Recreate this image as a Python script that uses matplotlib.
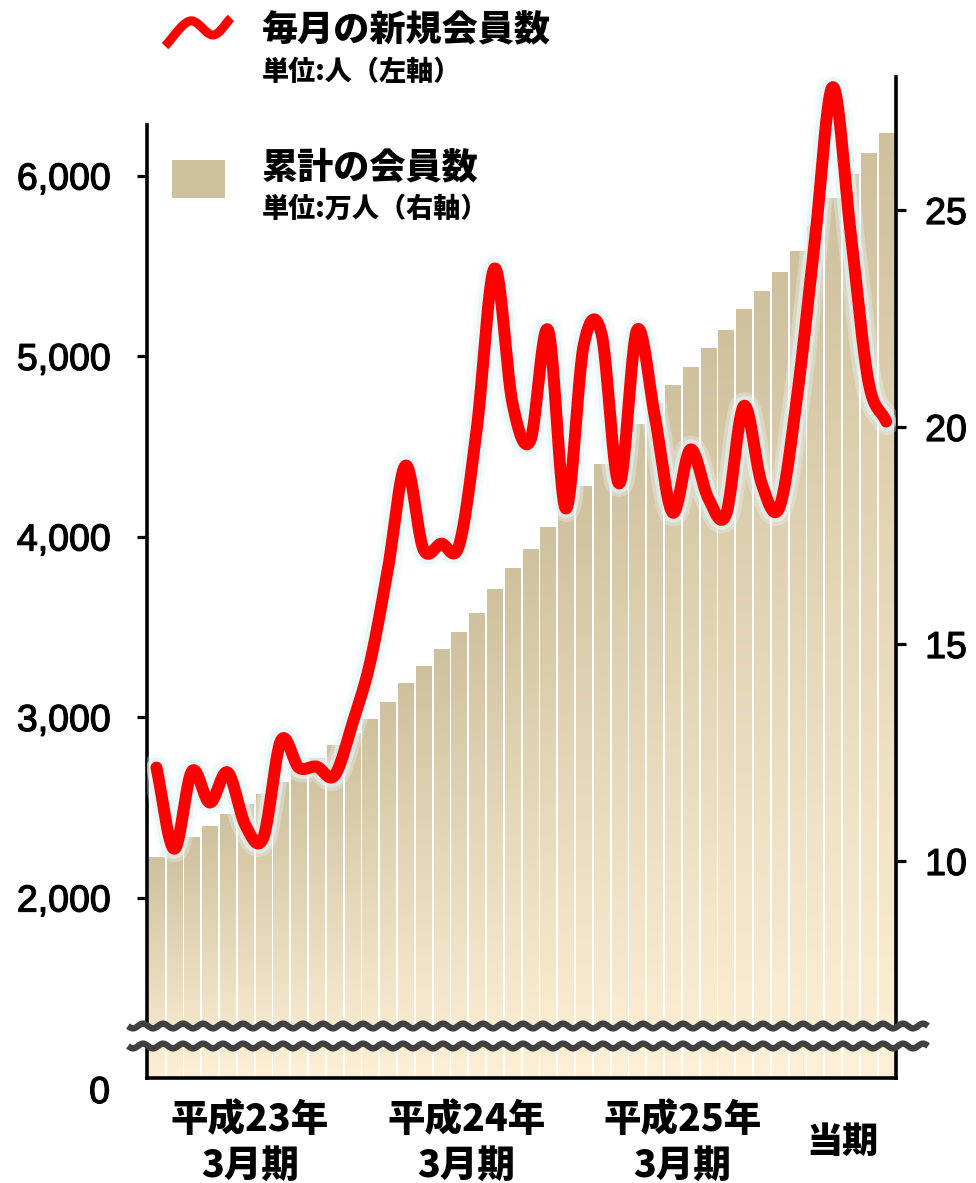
import numpy as np
import matplotlib
matplotlib.use('Agg')
import matplotlib.pyplot as plt
from matplotlib import patheffects as pe
from matplotlib.colors import LinearSegmentedColormap
from matplotlib.lines import Line2D
from matplotlib.patches import Polygon, Rectangle
from matplotlib.transforms import blended_transform_factory

# ---------------- data ----------------
months = list(range(42))
new_members = [2720, 2270, 2700, 2526, 2693, 2400, 2330, 2870, 2720, 2725,
               2675, 2960, 3300, 3817, 4393, 3930, 3960, 3950, 4600, 5485,
               4740, 4530, 5144, 4155, 5058, 5125, 4294, 5143, 4665, 4133,
               4482, 4213, 4122, 4723, 4294, 4161, 4781, 5645, 6490, 5684,
               4859, 4637]
total_members = [10.07, 10.30, 10.55, 10.80, 11.08, 11.30, 11.54, 11.80, 12.08, 12.37,
                 12.65, 12.93, 13.27, 13.66, 14.10, 14.49, 14.88, 15.27, 15.71, 16.26,
                 16.74, 17.18, 17.69, 18.14, 18.62, 19.13, 19.60, 20.06, 20.53, 20.95,
                 21.38, 21.82, 22.22, 22.70, 23.12, 23.55, 24.04, 24.62, 25.26, 25.82,
                 26.30, 26.76]
period_labels = ['平成23年\n3月期', '平成24年\n3月期', '平成25年\n3月期', '当期']
period_pos = [5.25, 17.4, 29.55, 38.55]
left_ticks = [2000, 3000, 4000, 5000, 6000]
left_ticklabels = ['2,000', '3,000', '4,000', '5,000', '6,000']
right_ticks = [10, 15, 20, 25]
right_ticklabels = ['10', '15', '20', '25']
legend_line_title = '毎月の新規会員数'
legend_line_unit = '単位:人（左軸）'
legend_bar_title = '累計の会員数'
legend_bar_unit = '単位:万人（右軸）'

# ---------------- style ----------------
W, H = 976, 1183
RED = '#ff0000'
TAN = '#cfc19e'
CREAM = '#fdf0d6'
JP = ['Noto Sans CJK JP', 'DejaVu Sans']
NUM = ['Liberation Sans', 'DejaVu Sans']
plt.rcParams['font.family'] = NUM
num_fx = [pe.Stroke(linewidth=0.9, foreground='black'), pe.Normal()]


def fx(x):
    return x / W


def fy(y):
    return 1 - y / H


def catmull_rom(xv, yv, n=24):
    xv = np.asarray(xv, float)
    yv = np.asarray(yv, float)
    px = np.concatenate([[2 * xv[0] - xv[1]], xv, [2 * xv[-1] - xv[-2]]])
    py = np.concatenate([[2 * yv[0] - yv[1]], yv, [2 * yv[-1] - yv[-2]]])
    t = np.linspace(0, 1, n, endpoint=False)
    ox, oy = [], []
    for i in range(1, len(px) - 2):
        for p, out in ((px, ox), (py, oy)):
            p0, p1, p2, p3 = p[i - 1], p[i], p[i + 1], p[i + 2]
            seg = 0.5 * (2 * p1 + (-p0 + p2) * t + (2 * p0 - 5 * p1 + 4 * p2 - p3) * t ** 2
                         + (-p0 + 3 * p1 - 3 * p2 + p3) * t ** 3)
            out.append(seg)
    ox.append([xv[-1]])
    oy.append([yv[-1]])
    return np.concatenate(ox), np.concatenate(oy)


fig = plt.figure(figsize=(W / 100, H / 100), dpi=100)
ax_left, ax_right = 147, 896
ax_bot, ax_top = 1078, 77
axB = fig.add_axes([fx(ax_left), fy(ax_bot), (ax_right - ax_left) / W, (ax_bot - ax_top) / H])
axL = axB.twinx()

xlim = (-0.53, 41.55)
ylimB = (5.0, 5.0 + (ax_bot - ax_top) / 43.4)
ylimL = (1000.0, 1000.0 + (ax_bot - ax_top) / 0.1805)

# ---- bars with vertical gradient (right axis) ----
cmap = LinearSegmentedColormap.from_list('barg', [TAN, CREAM])
grad = np.linspace(0, 1, 256)[:, None]
bars = axB.bar(months, total_members, width=0.86, bottom=0, color='none', edgecolor='none')
for b in bars:
    x0, w, h = b.get_x(), b.get_width(), b.get_height()
    axB.imshow(grad, extent=(x0, x0 + w, ylimB[0], h), origin='upper', aspect='auto',
               cmap=cmap, zorder=1, interpolation='bilinear')
axB.set_xlim(*xlim)
axB.set_ylim(*ylimB)
axB.set_aspect('auto')

# ---- line (left axis) ----
sx, sy = catmull_rom(months, new_members)
lw = 8.6
axL.plot(sx, sy, color=RED, lw=lw, solid_capstyle='round', solid_joinstyle='round', zorder=5,
         path_effects=[pe.Stroke(linewidth=lw + 11, foreground='#e6f5f8', alpha=0.35),
                       pe.Stroke(linewidth=lw + 6, foreground='#e2f3f6', alpha=0.6),
                       pe.Normal()])
axL.set_xlim(*xlim)
axL.set_ylim(*ylimL)

# ---- spines & ticks ----
for s in ['top', 'left']:
    axB.spines[s].set_visible(False)
for s in ['top', 'right', 'bottom']:
    axL.spines[s].set_visible(False)
axB.spines['right'].set_linewidth(2.6)
axB.spines['bottom'].set_linewidth(2.6)
axL.spines['left'].set_visible(True)
axL.spines['left'].set_linewidth(2.6)
axL.spines['left'].set_bounds(1000, 6280)

axB.set_xticks([])
axB.yaxis.tick_right()
axB.set_yticks(right_ticks)
axB.set_yticklabels(right_ticklabels)
axB.tick_params(axis='y', direction='out', length=7, width=2.3, pad=14, labelsize=27,
                colors='black')

axL.yaxis.tick_left()
axL.set_yticks(left_ticks)
axL.set_yticklabels(left_ticklabels)
axL.tick_params(axis='y', direction='out', length=7, width=2.3, pad=19, labelsize=27,
                colors='black')
axL.tick_params(axis='y', which='both', right=False, labelright=False)
for t in axL.get_yticklabels() + axB.get_yticklabels():
    t.set_path_effects(num_fx)
fig.text(fx(110), fy(1093), '0', ha='right', va='center', fontsize=27, family=NUM,
         path_effects=num_fx)

# ---- axis break marks ----
xs = np.linspace(128, 928, 1200)
wave = 2.4 * np.sin(2 * np.pi * (xs - 128) / 20.0)
y1 = 1026 + wave
y2 = 1046 + wave
band = np.concatenate([np.column_stack([fx(xs), fy(y1)]),
                       np.column_stack([fx(xs[::-1]), fy(y2[::-1])])])
fig.add_artist(Polygon(band, closed=True, facecolor='white', edgecolor='none',
                       transform=fig.transFigure, zorder=10))
for yy in (y1, y2):
    fig.add_artist(Line2D(fx(xs), fy(yy), color='#404040', lw=4.6,
                          transform=fig.transFigure, zorder=11, solid_capstyle='butt'))

# ---- x period labels ----
tr = blended_transform_factory(axB.transData, fig.transFigure)
for lab, pos in zip(period_labels, period_pos):
    parts = lab.split('\n')
    if len(parts) == 2:
        axB.text(pos, fy(1120), parts[0], transform=tr, ha='center', va='center',
                 fontsize=27, family=JP, fontweight='black', clip_on=False)
        axB.text(pos, fy(1166), parts[1], transform=tr, ha='center', va='center',
                 fontsize=27, family=JP, fontweight='black', clip_on=False)
    else:
        axB.text(pos, fy(1142), parts[0], transform=tr, ha='center', va='center',
                 fontsize=26, family=JP, fontweight='black', clip_on=False)

# ---- legend ----
lgx, lgy = catmull_rom([165, 190, 213, 231], [46, 21, 35, 18], n=30)
fig.add_artist(Line2D(fx(lgx), fy(lgy), color=RED, lw=6.5, transform=fig.transFigure,
                      solid_capstyle='butt'))
fig.text(fx(262), fy(30), legend_line_title, ha='left', va='center', fontsize=26,
         family=JP, fontweight='black')
fig.text(fx(262), fy(72), legend_line_unit, ha='left', va='center', fontsize=19.5,
         family=JP, fontweight='black')
fig.add_artist(Rectangle((fx(172), fy(198)), (225 - 172) / W, (198 - 160) / H,
                         transform=fig.transFigure, facecolor=TAN, edgecolor='none'))
fig.text(fx(262), fy(167), legend_bar_title, ha='left', va='center', fontsize=26,
         family=JP, fontweight='black')
fig.text(fx(262), fy(209), legend_bar_unit, ha='left', va='center', fontsize=19.5,
         family=JP, fontweight='black')

fig.savefig('out.png', dpi=100, facecolor='white')
